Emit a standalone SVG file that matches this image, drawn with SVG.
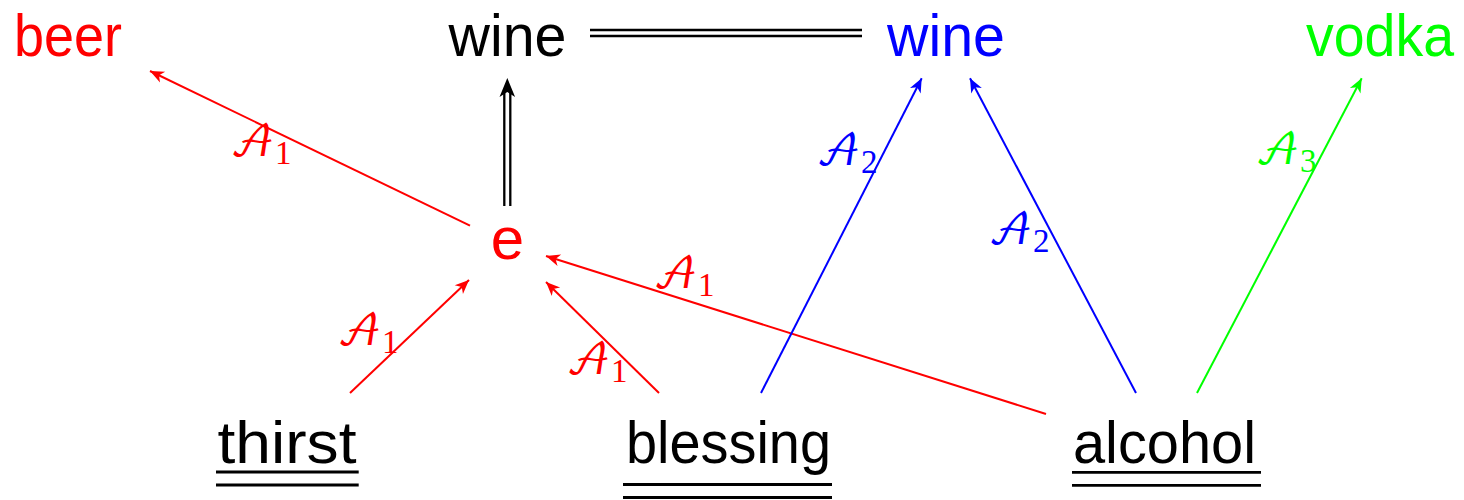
<svg xmlns="http://www.w3.org/2000/svg" width="1464" height="500" viewBox="0 0 1464 500">
<style>
.t{font-family:"Liberation Sans","DejaVu Sans",sans-serif;font-size:60px;text-anchor:middle}
.lb{font-family:"DejaVu Math TeX Gyre","Noto Sans Math","DejaVu Serif","Liberation Serif",serif;font-size:42px}
.sub{font-family:"Liberation Serif",serif;font-size:33px}
.c{fill:none;stroke-width:2}
.ul{stroke:#000;stroke-width:2.8}
</style>
<defs>
<marker id="mr" markerUnits="userSpaceOnUse" viewBox="-16 -8 17 16" refX="0" refY="0" markerWidth="17" markerHeight="16" orient="auto"><path d="M0,0 L-14,-6 L-10,0 L-14,6 Z" fill="#ff0000"/></marker>
<marker id="mb" markerUnits="userSpaceOnUse" viewBox="-16 -8 17 16" refX="0" refY="0" markerWidth="17" markerHeight="16" orient="auto"><path d="M0,0 L-14,-6 L-10,0 L-14,6 Z" fill="#0000ff"/></marker>
<marker id="mg" markerUnits="userSpaceOnUse" viewBox="-16 -8 17 16" refX="0" refY="0" markerWidth="17" markerHeight="16" orient="auto"><path d="M0,0 L-14,-6 L-10,0 L-14,6 Z" fill="#00ff00"/></marker>
</defs>
<rect width="1464" height="500" fill="#fff"/>
<g id="connectors">
<path class="c" stroke="#ff0000" marker-end="url(#mr)" d="M470,225.7 L150,71"/>
<path class="c" stroke="#ff0000" marker-end="url(#mr)" d="M350,393 L469,280"/>
<path class="c" stroke="#ff0000" marker-end="url(#mr)" d="M659,393 L546,282"/>
<path class="c" stroke="#ff0000" marker-end="url(#mr)" d="M1046,414 L546,256"/>
<path class="c" stroke="#0000ff" marker-end="url(#mb)" d="M761,393 L921.7,78.3"/>
<path class="c" stroke="#0000ff" marker-end="url(#mb)" d="M1136,393 L970,78.3"/>
<path class="c" stroke="#00ff00" marker-end="url(#mg)" d="M1197,393 L1361.7,78.3"/>
<path d="M590,33 L862,33" stroke="#000" stroke-width="8.3" fill="none"/>
<path d="M588,33 L864,33" stroke="#fff" stroke-width="3.7" fill="none"/>
<path d="M507.3,206 L507.3,90" stroke="#000" stroke-width="8.3" fill="none"/>
<path d="M507.3,208 L507.3,91" stroke="#fff" stroke-width="3.7" fill="none"/>
<path d="M507.3,78 L499.5,97 L507.3,92 L515.1,97 Z" fill="#000"/>
<text class="lb" x="230" y="156" fill="#ff0000">𝒜<tspan class="sub" dy="8">1</tspan></text>
<text class="lb" x="337" y="345" fill="#ff0000">𝒜<tspan class="sub" dy="8">1</tspan></text>
<text class="lb" x="566" y="374" fill="#ff0000">𝒜<tspan class="sub" dy="8">1</tspan></text>
<text class="lb" x="653" y="288" fill="#ff0000">𝒜<tspan class="sub" dy="8">1</tspan></text>
<text class="lb" x="816" y="165" fill="#0000ff">𝒜<tspan class="sub" dy="8">2</tspan></text>
<text class="lb" x="988" y="244" fill="#0000ff">𝒜<tspan class="sub" dy="8">2</tspan></text>
<text class="lb" x="1255" y="164" fill="#00ff00">𝒜<tspan class="sub" dy="8">3</tspan></text>
</g>
<g id="n-beer"><text class="t" x="68" y="56" fill="#ff0000" textLength="108" lengthAdjust="spacingAndGlyphs">beer</text></g>
<g id="n-wine1"><text class="t" x="507.5" y="56" fill="#000" textLength="118" lengthAdjust="spacingAndGlyphs">wine</text></g>
<g id="n-wine2"><text class="t" x="946" y="56" fill="#0000ff" textLength="118" lengthAdjust="spacingAndGlyphs">wine</text></g>
<g id="n-vodka"><text class="t" x="1380" y="56" fill="#00ff00" textLength="148" lengthAdjust="spacingAndGlyphs">vodka</text></g>
<g id="n-e"><text class="t" x="507.5" y="259" fill="#ff0000">e</text></g>
<g id="n-thirst"><text class="t" x="287" y="462.5" fill="#000" textLength="139" lengthAdjust="spacingAndGlyphs">thirst</text>
<line class="ul" x1="216" y1="472" x2="358.7" y2="472"/><line class="ul" x1="216" y1="485" x2="358.7" y2="485"/></g>
<g id="n-blessing"><text class="t" x="728.5" y="462.5" fill="#000" textLength="205" lengthAdjust="spacingAndGlyphs">blessing</text>
<line class="ul" x1="623" y1="484.5" x2="832" y2="484.5"/><line class="ul" x1="623" y1="497.5" x2="832" y2="497.5"/></g>
<g id="n-alcohol"><text class="t" x="1164.5" y="462.5" fill="#000" textLength="183" lengthAdjust="spacingAndGlyphs">alcohol</text>
<line class="ul" x1="1072" y1="472.3" x2="1261" y2="472.3"/><line class="ul" x1="1072" y1="485.3" x2="1261" y2="485.3"/></g>
</svg>
